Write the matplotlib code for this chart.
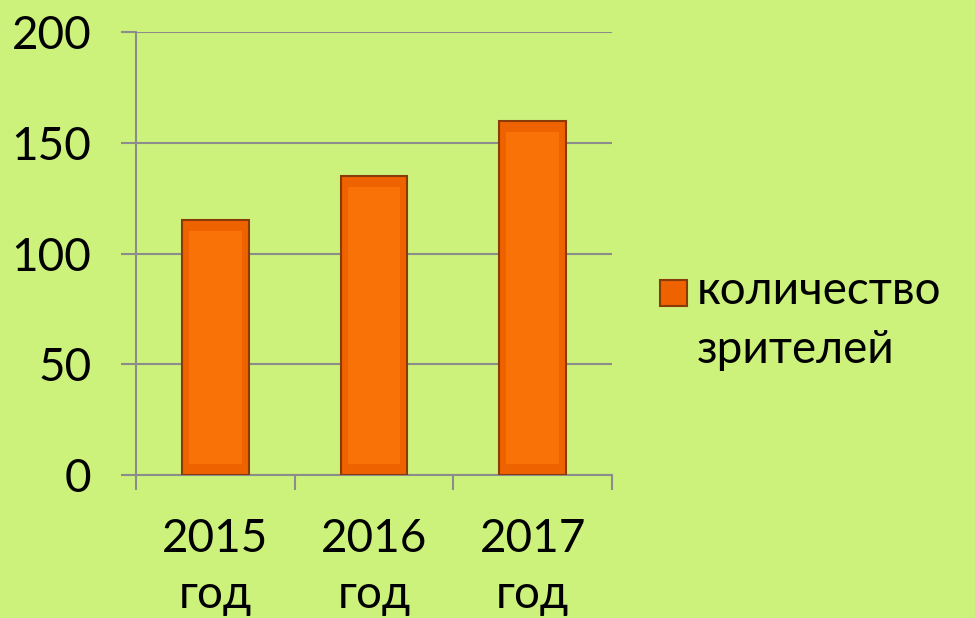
import matplotlib
matplotlib.use("Agg")
import matplotlib.pyplot as plt
from matplotlib.patches import Rectangle

plt.rcParams['font.family'] = ['Lato', 'DejaVu Sans']

# data
years = ['2015', '2016', '2017']
year_word = 'год'
viewers = [115, 135, 160]
series_name = 'количество\nзрителей'

bg = '#ccf27b'
bar_col = '#ee6200'
bar_light = '#ff7a0a'
bar_edge = '#8a3c08'
grid_col = '#8c8c8c'

fig = plt.figure(figsize=(9.75, 6.18), dpi=100, facecolor=bg)
ax = fig.add_axes([0.1395, 0.2314, 0.4882, 0.7168])
ax.set_facecolor(bg)

x = list(range(len(years)))
w = 0.42
bars = ax.bar(x, viewers, width=w, color=bar_col, edgecolor=bar_edge,
              linewidth=1.5, zorder=3)
# soft bevel: a lighter inner panel on each bar
for xi, v in zip(x, viewers):
    ax.bar(xi, v - 10, bottom=5, width=w - 0.09, color=bar_light,
           linewidth=0, alpha=0.7, zorder=4)

ax.set_xlim(-0.5, len(years) - 0.5)
ax.set_ylim(0, 200)
ax.set_yticks([0, 50, 100, 150, 200])
ax.yaxis.grid(True, color=grid_col, linewidth=1.5, zorder=0)

ax.set_xticks(x)
ax.set_xticklabels([f'{y}\n{year_word}' for y in years], fontsize=33,
                   va='top', linespacing=1.4)
ax.set_xticks([i - 0.5 for i in range(len(years) + 1)], minor=True)
ax.tick_params(axis='x', which='major', length=0, pad=31)
ax.tick_params(axis='x', which='minor', length=11, width=1.5,
               color=grid_col, direction='out')
ax.tick_params(axis='y', length=11, width=1.5, color=grid_col,
               direction='out', pad=21, labelsize=33)

for s in ['top', 'right']:
    ax.spines[s].set_visible(False)
for s in ['left', 'bottom']:
    ax.spines[s].set_color(grid_col)
    ax.spines[s].set_linewidth(1.5)

# legend
fig.patches.append(Rectangle((660 / 975, 1 - 306 / 618), 27 / 975, 26 / 618,
                             transform=fig.transFigure, facecolor=bar_col,
                             edgecolor=bar_edge, linewidth=1.5))
fig.text(697 / 975, 1 - 270 / 618, series_name, fontsize=33, va='top',
         ha='left', linespacing=1.5)

fig.savefig('out.png', dpi=100, facecolor=bg)
